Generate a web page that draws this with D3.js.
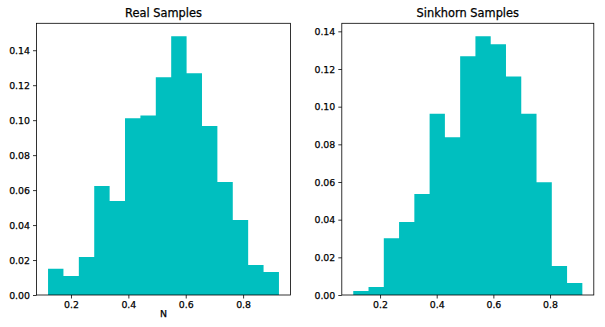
<!DOCTYPE html>
<html>
<head>
<meta charset="utf-8">
<script src="https://cdn.jsdelivr.net/npm/d3@7"></script>
<style>
  body { margin: 0; background: #fff; }
  text { font-family: "DejaVu Sans", sans-serif; fill: #000; stroke: #000; stroke-width: 0.25px; }
</style>
</head>
<body>
<div id="chart"></div>
<script>
  // histogram data (density per bin, 15 bins each)
  var realStart = 0.12, realEnd = 0.925;
  var realHeights = [0.0150, 0.0109, 0.0217, 0.0623, 0.0537, 0.1011, 0.1027, 0.1246,
                     0.1480, 0.1269, 0.0966, 0.0646, 0.0429, 0.0171, 0.0131];

  var sinkStart = 0.1055, sinkEnd = 0.914;
  var sinkHeights = [0.0021, 0.0042, 0.0302, 0.0387, 0.0536, 0.0963, 0.0838, 0.1268,
                     0.1374, 0.1331, 0.1160, 0.0963, 0.0599, 0.0154, 0.0064];

  var xTicks = [0.2, 0.4, 0.6, 0.8];
  var yTicks = [0, 0.02, 0.04, 0.06, 0.08, 0.10, 0.12, 0.14];

  var titles = ["Real Samples", "Sinkhorn Samples"];

  var width = 605, height = 327;

  var svg = d3.select("#chart")
              .append("svg")
              .attr("width", width)
              .attr("height", height);

  function drawHist(box, start, end, heights, title, xlabel) {
    var n = heights.length,
        step = (end - start) / n,
        pad = 0.05 * (end - start);

    var bins = heights.map(function(h, i) {
      return {x0: start + i * step, x1: start + (i + 1) * step, h: h};
    });

    var x = d3.scaleLinear()
              .domain([start - pad, end + pad])
              .range([box.left, box.right]);

    var y = d3.scaleLinear()
              .domain([0, d3.max(heights) * 1.05])
              .range([box.bottom, box.top]);

    var g = svg.append("g");

    // one outline path for the whole histogram, so no seams show between bars
    var pts = [[x(start), y(0)]];
    bins.forEach(function(d) {
      pts.push([x(d.x0), y(d.h)]);
      pts.push([x(d.x1), y(d.h)]);
    });
    pts.push([x(end), y(0)]);

    g.append("path")
     .attr("d", d3.line()(pts) + "Z")
     .attr("fill", "#00bfbf");

    var xAxis = g.append("g")
                 .attr("transform", "translate(0," + box.bottom + ")")
                 .call(d3.axisBottom(x).tickValues(xTicks).tickSize(3.5).tickPadding(3)
                         .tickFormat(d3.format(".1f")));

    var yAxis = g.append("g")
                 .attr("transform", "translate(" + box.left + ",0)")
                 .call(d3.axisLeft(y).tickValues(yTicks).tickSize(3.5).tickPadding(3)
                         .tickFormat(d3.format(".2f")));

    [xAxis, yAxis].forEach(function(a) {
      a.select(".domain").remove();
      a.selectAll("line").attr("stroke", "#000").attr("stroke-width", 0.8);
      a.selectAll("text")
       .style("font-family", "DejaVu Sans")
       .style("font-size", "9.4px")
       .attr("fill", "#000");
    });

    // frame
    g.append("rect")
     .attr("x", box.left)
     .attr("y", box.top)
     .attr("width", box.right - box.left)
     .attr("height", box.bottom - box.top)
     .attr("fill", "none")
     .attr("stroke", "#000")
     .attr("stroke-width", 0.8);

    g.append("text")
     .attr("x", (box.left + box.right) / 2)
     .attr("y", box.top - 6.5)
     .attr("text-anchor", "middle")
     .style("font-size", "11.4px")
     .text(title);

    if (xlabel) {
      g.append("text")
       .attr("x", (box.left + box.right) / 2)
       .attr("y", 317)
       .attr("text-anchor", "middle")
       .style("font-size", "9.4px")
       .text(xlabel);
    }
  }

  drawHist({left: 36.5, right: 290.5, top: 23.3, bottom: 295}, realStart, realEnd, realHeights, titles[0], "N");
  drawHist({left: 341.8, right: 593.8, top: 23.3, bottom: 295}, sinkStart, sinkEnd, sinkHeights, titles[1], null);
</script>
</body>
</html>
